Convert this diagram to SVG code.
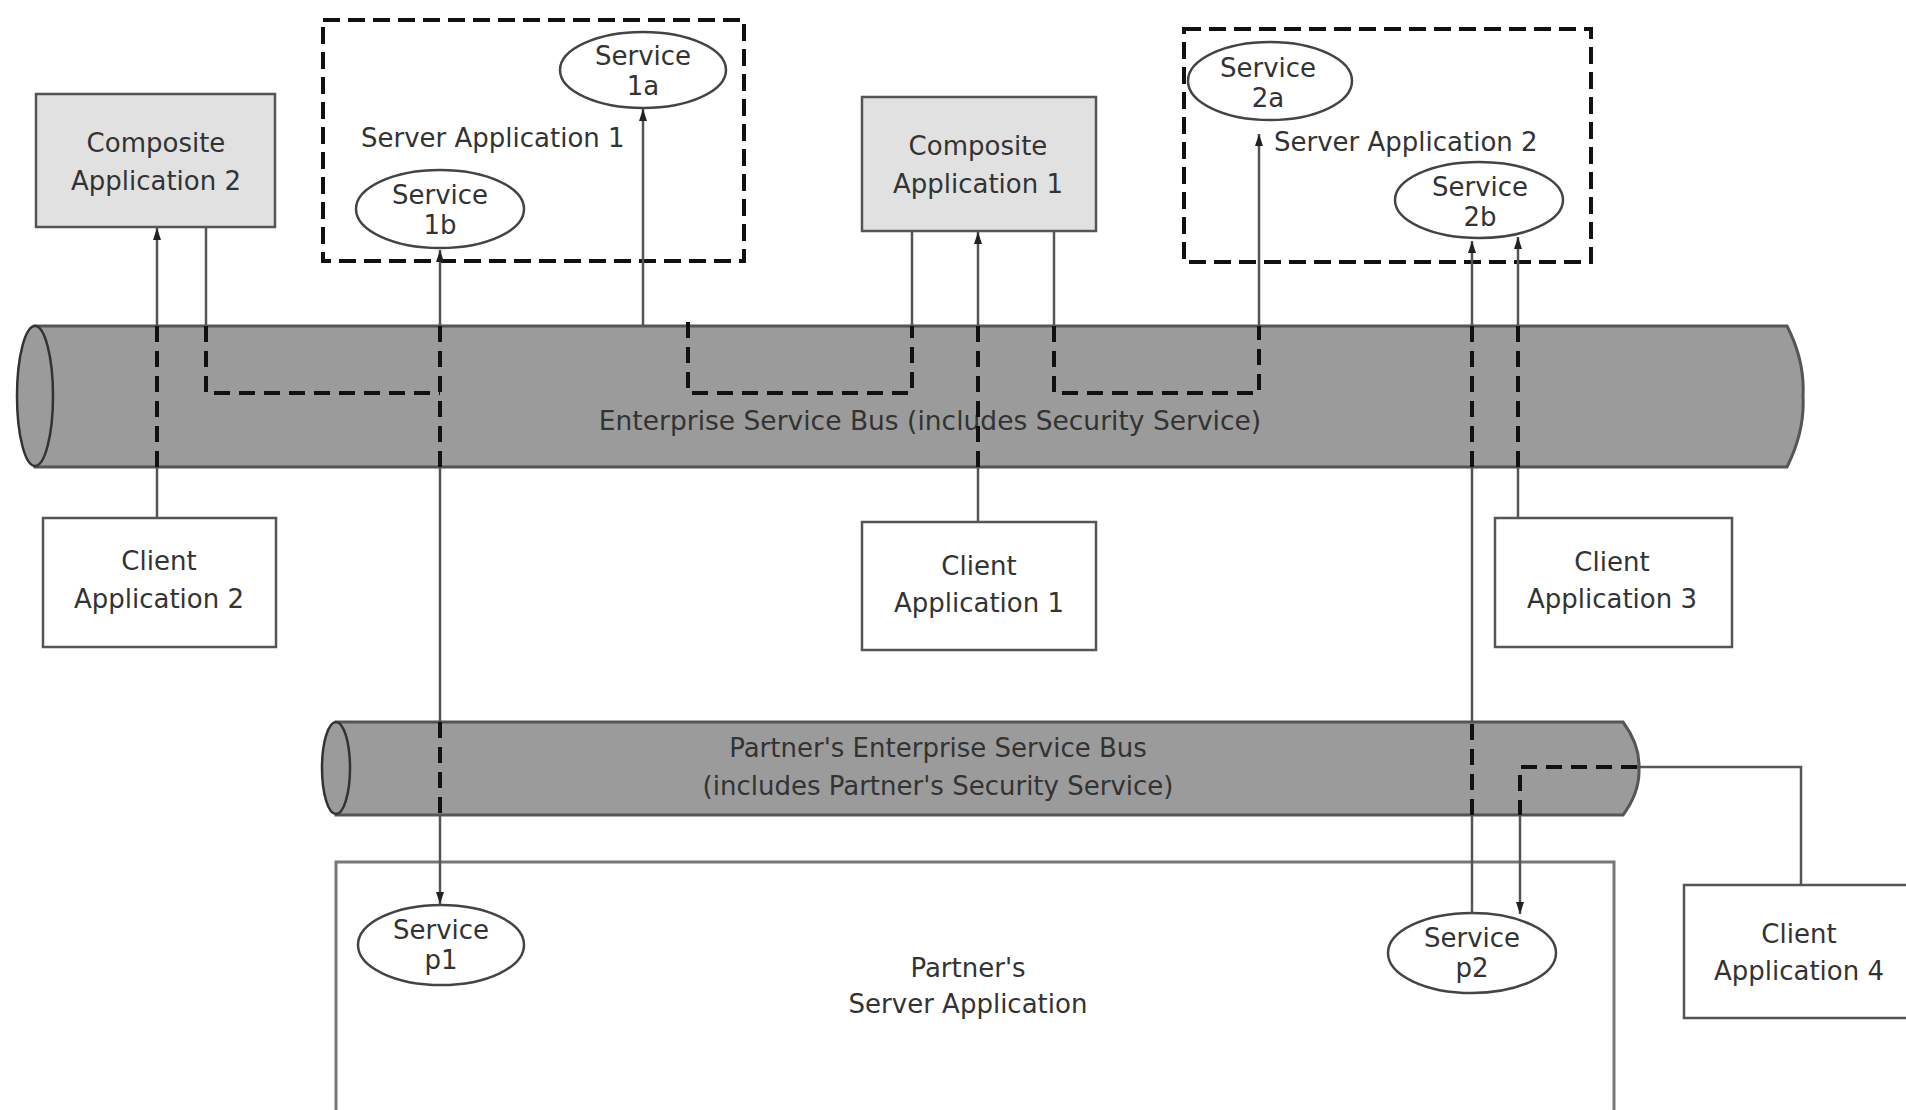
<svg xmlns="http://www.w3.org/2000/svg" width="1906" height="1110" viewBox="0 0 1906 1110">
<defs>
<style>
.t{font-family:"DejaVu Sans","Liberation Sans",sans-serif;font-size:26px;fill:#333;text-anchor:middle}
.ts{text-anchor:start}
.box{fill:#fff;stroke:#555;stroke-width:2.5}
.comp{fill:#e1e1e1;stroke:#555;stroke-width:2.5}
.srv{fill:none;stroke:#111;stroke-width:4;stroke-dasharray:17 8}
.svc{fill:#fff;stroke:#444;stroke-width:2.5}
.tube{fill:#9b9b9b;stroke:#555;stroke-width:3}
.cap{fill:#9b9b9b;stroke:#333;stroke-width:2.5}
.ln{fill:none;stroke:#555;stroke-width:2.5}
.dl{fill:none;stroke:#111;stroke-width:4;stroke-dasharray:16 9}
</style>
<marker id="arr" viewBox="0 0 12 8" refX="12" refY="4" markerWidth="12" markerHeight="8" markerUnits="userSpaceOnUse" orient="auto"><path d="M0,0 L12,4 L0,8 z" fill="#222"/></marker>
</defs>
<rect width="1906" height="1110" fill="#fff"/>

<g id="esb">
<path class="tube" d="M35,326 H1787 Q1805,361 1803,396 Q1805,431 1787,467 H35 Z"/>
<ellipse class="cap" cx="35" cy="396" rx="18" ry="70"/>
<text class="t" x="930" y="430" style="font-size:26.5px">Enterprise Service Bus (includes Security Service)</text>
</g>

<g id="partner-esb">
<path class="tube" d="M336,722 H1623 Q1640,745 1639,768 Q1640,792 1623,815 H336 Z"/>
<ellipse class="cap" cx="336" cy="768" rx="14" ry="46"/>
<text class="t" x="938" y="757">Partner's Enterprise Service Bus</text>
<text class="t" x="938" y="795">(includes Partner's Security Service)</text>
</g>

<g id="partner-server-app">
<rect x="336" y="862" width="1278" height="270" fill="#fff" stroke="#777" stroke-width="3"/>
<text class="t" x="968" y="977">Partner's</text>
<text class="t" x="968" y="1013">Server Application</text>
</g>

<g id="composite-app-2">
<rect class="comp" x="36" y="94" width="239" height="133"/>
<text class="t" x="156" y="152">Composite</text>
<text class="t" x="156" y="190">Application 2</text>
</g>

<g id="server-app-1">
<rect class="srv" x="323" y="20" width="421" height="241"/>
<text class="t ts" x="361" y="147">Server Application 1</text>
</g>
<g id="service-1a">
<ellipse class="svc" cx="643" cy="70" rx="83" ry="38"/>
<text class="t" x="643" y="65">Service</text>
<text class="t" x="643" y="95">1a</text>
</g>
<g id="service-1b">
<ellipse class="svc" cx="440" cy="209" rx="84" ry="39"/>
<text class="t" x="440" y="204">Service</text>
<text class="t" x="440" y="234">1b</text>
</g>

<g id="composite-app-1">
<rect class="comp" x="862" y="97" width="234" height="134"/>
<text class="t" x="978" y="155">Composite</text>
<text class="t" x="978" y="193">Application 1</text>
</g>

<g id="server-app-2">
<rect class="srv" x="1184" y="29" width="407" height="233"/>
<text class="t ts" x="1274" y="151">Server Application 2</text>
</g>
<g id="service-2a">
<ellipse class="svc" cx="1270" cy="81" rx="82" ry="39"/>
<text class="t" x="1268" y="77">Service</text>
<text class="t" x="1268" y="107">2a</text>
</g>
<g id="service-2b">
<ellipse class="svc" cx="1479" cy="200" rx="84" ry="38"/>
<text class="t" x="1480" y="196">Service</text>
<text class="t" x="1480" y="226">2b</text>
</g>

<g id="client-app-2">
<rect class="box" x="43" y="518" width="233" height="129"/>
<text class="t" x="159" y="570">Client</text>
<text class="t" x="159" y="608">Application 2</text>
</g>
<g id="client-app-1">
<rect class="box" x="862" y="522" width="234" height="128"/>
<text class="t" x="979" y="575">Client</text>
<text class="t" x="979" y="612">Application 1</text>
</g>
<g id="client-app-3">
<rect class="box" x="1495" y="518" width="237" height="129"/>
<text class="t" x="1612" y="571">Client</text>
<text class="t" x="1612" y="608">Application 3</text>
</g>
<g id="client-app-4">
<rect class="box" x="1684" y="885" width="232" height="133"/>
<text class="t" x="1799" y="943">Client</text>
<text class="t" x="1799" y="980">Application 4</text>
</g>

<g id="service-p1">
<ellipse class="svc" cx="441" cy="945" rx="83" ry="40"/>
<text class="t" x="441" y="939">Service</text>
<text class="t" x="441" y="969">p1</text>
</g>
<g id="service-p2">
<ellipse class="svc" cx="1472" cy="953" rx="84" ry="40"/>
<text class="t" x="1472" y="947">Service</text>
<text class="t" x="1472" y="977">p2</text>
</g>

<g id="connectors">
<path class="ln" d="M157,518 V467"/>
<path class="dl" d="M157,467 V326"/>
<path class="ln" d="M157,326 V228" marker-end="url(#arr)"/>

<path class="ln" d="M206,228 V326"/>
<path class="dl" d="M206,326 V393 H440"/>

<path class="ln" d="M440,326 V250" marker-end="url(#arr)"/>
<path class="dl" d="M440,326 V467"/>
<path class="ln" d="M440,467 V722"/>
<path class="dl" d="M440,722 V815"/>
<path class="ln" d="M440,815 V904" marker-end="url(#arr)"/>

<path class="ln" d="M643,326 V109" marker-end="url(#arr)"/>

<path class="dl" d="M688,322 V393 H912 V326"/>
<path class="ln" d="M912,326 V231"/>

<path class="ln" d="M978,522 V467"/>
<path class="dl" d="M978,467 V326"/>
<path class="ln" d="M978,326 V232" marker-end="url(#arr)"/>

<path class="ln" d="M1054,231 V326"/>
<path class="dl" d="M1054,326 V393 H1259 V326"/>
<path class="ln" d="M1259,326 V134" marker-end="url(#arr)"/>

<path class="ln" d="M1472,913 V815"/>
<path class="dl" d="M1472,815 V722"/>
<path class="ln" d="M1472,722 V467"/>
<path class="dl" d="M1472,467 V326"/>
<path class="ln" d="M1472,326 V241" marker-end="url(#arr)"/>

<path class="ln" d="M1518,518 V467"/>
<path class="dl" d="M1518,467 V326"/>
<path class="ln" d="M1518,326 V237" marker-end="url(#arr)"/>

<path class="ln" d="M1801,885 V767 H1637"/>
<path class="dl" d="M1637,767 H1520 V815"/>
<path class="ln" d="M1520,815 V914" marker-end="url(#arr)"/>
</g>
</svg>
